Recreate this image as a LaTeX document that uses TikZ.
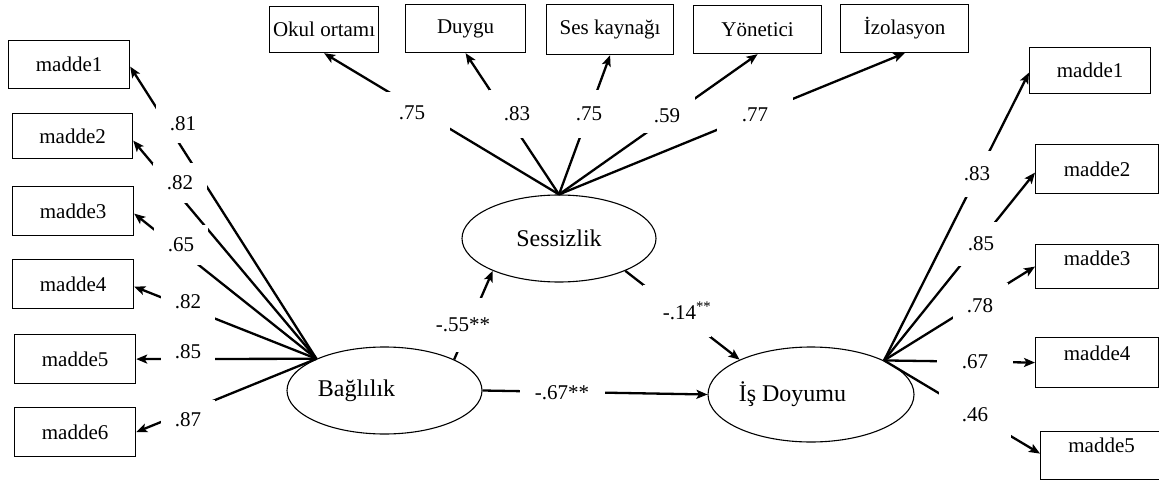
\documentclass[tikz,border=0pt]{standalone}
\usepackage{fontspec}
\setmainfont{Liberation Serif}
\usetikzlibrary{arrows.meta,shapes.geometric}
\begin{document}
\begin{tikzpicture}[x=1pt,y=-1pt,
  conn/.style={line width=2.3pt,-{Stealth[length=11pt,width=9pt,inset=2.5pt]}},
  ibox/.style={draw,line width=1.2pt,inner sep=0pt,anchor=north west,font=\fontsize{21}{25}\selectfont},
  topbox/.style={ibox,inner ysep=0pt,text height=#1},
  lat/.style={draw,ellipse,line width=1.1pt,inner sep=0pt,font=\fontsize{24}{28}\selectfont},
  lbl/.style={fill=white,inner sep=0pt,font=\fontsize{21}{25}\selectfont},
]
\useasboundingbox (0,0) rectangle (1159,481);

% latent variables
\node[lat,minimum width=195pt,minimum height=87pt] (bag) at (384.5,390.5) {Bağlılık\hspace*{56pt}};
\node[lat,minimum width=194pt,minimum height=87pt] (ses) at (559,238.5) {Sessizlik};
\node[lat,minimum width=206pt,minimum height=95pt] (isd) at (811,394.5) {İş Doyumu\hspace*{37pt}};

% left indicators
\node[ibox,minimum width=121pt,minimum height=48pt] (lm1) at (8,40) {madde1};
\node[ibox,minimum width=120pt,minimum height=45pt] (lm2) at (12,113) {madde2};
\node[ibox,minimum width=121pt,minimum height=49pt] (lm3) at (12,186) {madde3};
\node[ibox,minimum width=121pt,minimum height=49pt] (lm4) at (12,259) {madde4};
\node[ibox,minimum width=121pt,minimum height=49pt] (lm5) at (14,334) {madde5};
\node[ibox,minimum width=121pt,minimum height=49pt] (lm6) at (14,407) {madde6};

% top indicators
\node[ibox,minimum width=109pt,minimum height=46pt] (okul) at (269,6) {Okul ortamı};
\node[ibox,minimum width=120pt,minimum height=48pt] (duy) at (405,4) {Duygu};
\node[ibox,minimum width=127pt,minimum height=50pt] (sesk) at (546,4) {Ses kaynağı};
\node[ibox,minimum width=128pt,minimum height=48pt] (yon) at (693,5) {Yönetici};
\node[ibox,minimum width=128pt,minimum height=48pt] (izo) at (840,4) {İzolasyon};

% right indicators
\node[ibox,minimum width=121pt,minimum height=46pt] (rm1) at (1029,47) {madde1};
\node[ibox,minimum width=123pt,minimum height=49pt] (rm2) at (1035,144) {madde2};
\node[ibox,minimum width=123pt,text height=21pt,text depth=23pt] (rm3) at (1035,244) {madde3};
\node[ibox,minimum width=123pt,text height=23pt,text depth=27pt] (rm4) at (1035,337) {madde4};
\node[ibox,minimum width=122pt,text height=21pt,text depth=27pt] (rm5) at (1040,431) {madde5};

% loadings Bağlılık
\draw[conn] (bag.155.6) -- ([yshift=-2pt]lm1.east);
\draw[conn] (bag.155.6) -- ([yshift=-4.5pt]lm2.east);
\draw[conn] (bag.155.6) -- ([yshift=-2.5pt]lm3.east);
\draw[conn] (bag.155.6) -- ([yshift=-2.5pt]lm4.east);
\draw[conn] (bag.155.6) -- (lm5.east);
\draw[conn] (bag.155.6) -- (lm6.east);

% loadings Sessizlik
\draw[conn] (ses.north) -- (okul.south);
\draw[conn] (ses.north) -- (duy.south);
\draw[conn] (ses.north) -- (sesk.south);
\draw[conn] (ses.north) -- (yon.south);
\draw[conn] (ses.north) -- (izo.south);

% loadings İş Doyumu
\draw[conn] (isd.25.3) -- ([yshift=-2pt]rm1.west);
\draw[conn] (isd.25.3) -- ([yshift=-3.5pt]rm2.west);
\draw[conn] (isd.25.3) -- (rm3.west);
\draw[conn] (isd.25.3) -- (rm4.west);
\draw[conn] (isd.25.3) -- ([yshift=2pt]rm5.west);

% structural paths
\draw[conn] (bag.24) -- (ses.206.6);
\draw[conn] (ses.-26.2) -- (isd.154.7);
\draw[conn] (bag.east) -- (isd.west);

% labels (white boxes interrupt the lines)
\node[lbl,minimum width=54pt,minimum height=38pt] (l1) at (183,124) {.81};
\node[lbl,minimum width=54pt,minimum height=40pt] (l2) at (180,183) {.82};
\node[lbl,minimum width=54pt,minimum height=40pt] (l3) at (181,245) {.65};
\node[lbl,minimum width=54pt,minimum height=40pt] (l4) at (188,302) {.82};
\node[lbl,minimum width=54pt,minimum height=36pt] (l5) at (188,352) {.85};
\node[lbl,minimum width=54pt,minimum height=40pt] (l6) at (188,420) {.87};

\node[lbl,minimum width=76pt,minimum height=42pt] (t1) at (412,113) {.75};
\node[lbl,minimum width=56pt,minimum height=48pt] (t2) at (517,114) {.83};
\node[lbl,minimum width=56pt,minimum height=48pt] (t3) at (589,114) {.75};
\node[lbl,minimum width=56pt,minimum height=36pt] (t4) at (667,115.5) {.59};
\node[lbl,minimum width=76pt,minimum height=38pt] (t5) at (755,115) {.77};

\node[lbl,minimum width=50pt,minimum height=46pt] (r1) at (977,174) {.83};
\node[lbl,minimum width=50pt,minimum height=44pt] (r2) at (981,244) {.85};
\node[lbl,minimum width=55pt,minimum height=46pt] (r3) at (980,306) {.78};
\node[lbl,minimum width=76pt,minimum height=36pt] (r4) at (975,362) {.67};
\node[lbl,minimum width=72pt,minimum height=46pt] (r5) at (975,415) {.46};

\node[lbl,minimum width=57pt,minimum height=54pt] (m1) at (463,325) {-.55**};
\node[lbl,minimum width=64pt,minimum height=52pt] (m2) at (677,311) {\hspace*{20pt}-.14\textsuperscript{**}};
\node[lbl,minimum width=85pt,minimum height=30pt] (m3) at (562,393) {-.67**};
\end{tikzpicture}
\end{document}
